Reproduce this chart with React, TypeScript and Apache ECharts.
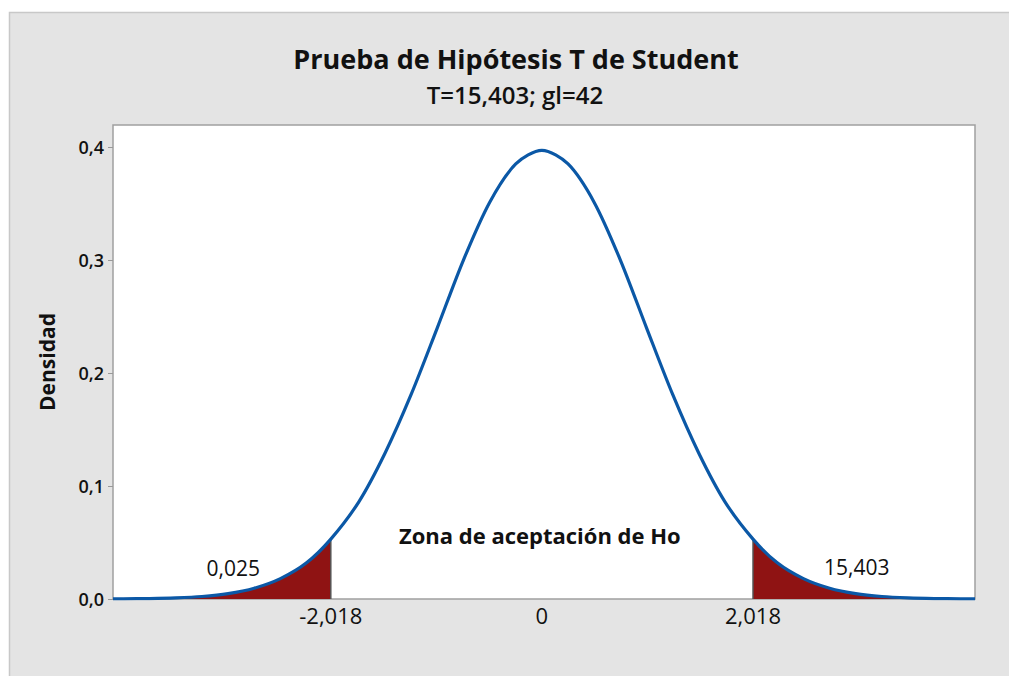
import React, { useEffect, useRef } from "react";
import * as echarts from "echarts";

const title = "Prueba de Hipótesis T de Student";
const subtitle = "T=15,403; gl=42";
const yAxisName = "Densidad";
const tCrit = 2.018;
const xTicks = [-2.018, 0, 2.018];
const xTickLabels = ["-2,018", "0", "2,018"];
const yTicks = [0, 0.1, 0.2, 0.3, 0.4];
const yTickLabels = ["0,0", "0,1", "0,2", "0,3", "0,4"];
const annotTexts = ["0,025", "15,403", "Zona de aceptación de Ho"];
const annotX = [-2.95, 3.01, -0.02];
const annotY = [0.0274, 0.0283, 0.0566];

// density curve
const curveX = [
  -4.1, -4.0, -3.75, -3.5, -3.25, -3.0, -2.75, -2.5, -2.25, -2.018, -1.75, -1.5, -1.25, -1.0, -0.75, -0.5, -0.25,
  0, 0.25, 0.5, 0.75, 1.0, 1.25, 1.5, 1.75, 2.018, 2.25, 2.5, 2.75, 3.0, 3.25, 3.5, 3.75, 4.0, 4.14,
];
const curveY = [
  0.0001, 0.00016, 0.0004, 0.001, 0.0022, 0.0047, 0.0095, 0.018, 0.032, 0.053, 0.086, 0.129, 0.181, 0.24, 0.3, 0.351, 0.385,
  0.397, 0.385, 0.351, 0.3, 0.24, 0.181, 0.129, 0.086, 0.053, 0.032, 0.018, 0.0095, 0.0047, 0.0022, 0.001, 0.0004, 0.00016, 0.0001,
];

const X_MIN = -4.1;
const X_MAX = 4.14;
const Y_MAX = 0.4195;

const FONT = "'Open Sans', 'Noto Sans', sans-serif";

export default function App() {
  const ref = useRef<HTMLDivElement>(null);
  useEffect(() => {
    if (!ref.current) return;
    const chart = echarts.init(ref.current, undefined, { renderer: "svg" });
    const pts = curveX.map((x, i) => [x, curveY[i]]);
    const leftTail = pts.filter((p) => p[0] <= -tCrit + 1e-9);
    const rightTail = pts.filter((p) => p[0] >= tCrit - 1e-9);
    const yAtCrit = curveY[curveX.indexOf(tCrit)];
    const fmt = (v: number, vals: number[], labels: string[]) => {
      const i = vals.findIndex((t) => Math.abs(t - v) < 1e-6);
      return i >= 0 ? labels[i] : "";
    };
    const baseGraphic: any[] = [
      {
        id: "frame",
        type: "rect",
        z: -10,
        silent: true,
        shape: { x: 9.5, y: 12.5, width: 1010, height: 700 },
        style: { fill: "#e4e4e4", stroke: "#c8c8c8", lineWidth: 1.5 },
      },
      {
        id: "title",
        type: "text",
        x: 516,
        y: 58,
        style: {
          text: title,
          font: `bold 27px ${FONT}`,
          fill: "#111",
          align: "center",
          verticalAlign: "middle",
        },
      },
      {
        id: "subtitle",
        type: "text",
        x: 515,
        y: 94,
        style: {
          text: subtitle,
          font: `600 24px ${FONT}`,
          fill: "#111",
          align: "center",
          verticalAlign: "middle",
        },
      },
    ];
    chart.setOption({
      animation: false,
      backgroundColor: "transparent",
      graphic: baseGraphic,
      grid: {
        left: 113,
        top: 125,
        width: 862,
        height: 474,
        show: true,
        backgroundColor: "#ffffff",
        borderColor: "#a0a0a0",
        borderWidth: 1.5,
      },
      xAxis: {
        type: "value",
        min: X_MIN,
        max: X_MAX,
        axisLine: { show: false, onZero: false },
        splitLine: { show: false },
        axisTick: { show: false, customValues: xTicks },
        axisLabel: {
          customValues: xTicks,
          formatter: (v: number) => fmt(v, xTicks, xTickLabels),
          fontFamily: FONT,
          fontSize: 22,
          color: "#111",
          margin: 5,
        },
      },
      yAxis: {
        type: "value",
        min: 0,
        max: Y_MAX,
        name: yAxisName,
        nameLocation: "middle",
        nameGap: 56,
        nameTextStyle: { fontFamily: FONT, fontSize: 21, fontWeight: "bold", color: "#111" },
        axisLine: { show: false, onZero: false },
        splitLine: { show: false },
        axisTick: { show: true, customValues: yTicks, length: 5, lineStyle: { color: "#999" } },
        axisLabel: {
          customValues: yTicks,
          formatter: (v: number) => fmt(v, yTicks, yTickLabels),
          fontFamily: FONT,
          fontSize: 18,
          fontWeight: 600,
          color: "#111",
          margin: 9,
        },
      },
      series: [
        {
          type: "line",
          data: leftTail,
          symbol: "none",
          smooth: 0.3,
          lineStyle: { width: 0 },
          areaStyle: { color: "#8f1313", opacity: 1 },
          z: 2,
          silent: true,
        },
        {
          type: "line",
          data: rightTail,
          symbol: "none",
          smooth: 0.3,
          lineStyle: { width: 0 },
          areaStyle: { color: "#8f1313", opacity: 1 },
          z: 2,
          silent: true,
        },
        {
          type: "line",
          data: [[-tCrit, 0], [-tCrit, yAtCrit]],
          symbol: "none",
          lineStyle: { color: "#555", width: 1.5 },
          z: 3,
          silent: true,
        },
        {
          type: "line",
          data: [[tCrit, 0], [tCrit, yAtCrit]],
          symbol: "none",
          lineStyle: { color: "#555", width: 1.5 },
          z: 3,
          silent: true,
        },
        {
          type: "line",
          data: pts,
          symbol: "none",
          smooth: 0.3,
          lineStyle: { color: "#0b58a6", width: 3.2 },
          z: 5,
          silent: true,
        },
      ],
    });
    const annots = annotTexts.map((t, i) => {
      const p = chart.convertToPixel({ gridIndex: 0 }, [annotX[i], annotY[i]]) as number[];
      return {
        id: "annot" + i,
        type: "text",
        x: p[0],
        y: p[1],
        z: 10,
        silent: true,
        style: {
          text: t,
          font: `${i === 2 ? "bold" : "normal"} ${i === 2 ? 22 : 21}px ${FONT}`,
          fill: "#111",
          align: "center",
          verticalAlign: "middle",
        },
      };
    });
    chart.setOption({ graphic: [...baseGraphic, ...annots] });
    return () => chart.dispose();
  }, []);
  return (
    <div
      style={{ position: "fixed", left: 0, top: 0, width: 1009, height: 676, background: "#ffffff" }}
    >
      <div ref={ref} style={{ width: 1009, height: 676 }} />
    </div>
  );
}
